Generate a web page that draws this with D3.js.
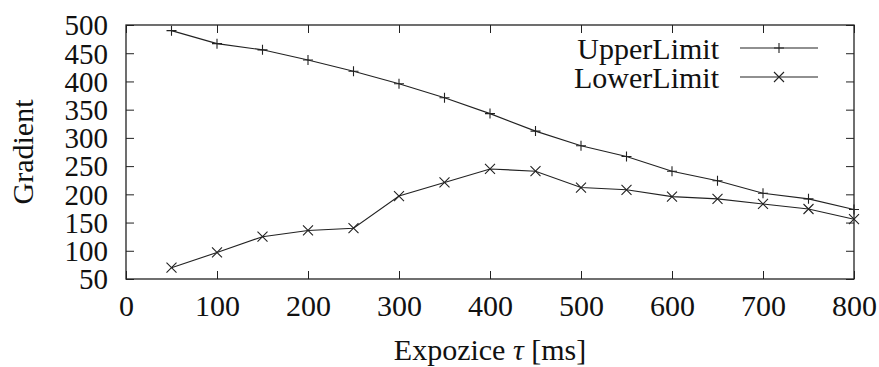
<!DOCTYPE html>
<html><head><meta charset="utf-8">
<script src="https://cdn.jsdelivr.net/npm/d3@7/dist/d3.min.js"></script>
<style>body{margin:0;background:#fff}svg{display:block}</style>
</head><body><svg id="c" width="879" height="367"></svg>
<script>
const exposure = [50,100,150,200,250,300,350,400,450,500,550,600,650,700,750,800];
const upperLimit = [490,467,456,438,418,396,371,343,312,286,267,241,224,202,192,173];
const lowerLimit = [70,97,125,136,140,197,221,245,241,212,208,196,192,183,174,156];
const xTicks = [0,100,200,300,400,500,600,700,800];
const yTicks = [50,100,150,200,250,300,350,400,450,500];
const seriesNames = ["UpperLimit","LowerLimit"];

const FONT = "'Liberation Serif','Times New Roman','DejaVu Serif',serif";
const svg = d3.select("#c");
const L=126, R=854, T=25, B=279;
const x = d3.scaleLinear().domain([0,800]).range([L,R]);
const y = d3.scaleLinear().domain([50,500]).range([B,T]);
const ink="#222";

svg.append("g").attr("transform",`translate(0,${B})`)
  .call(d3.axisBottom(x).tickValues(xTicks).tickSize(-8).tickPadding(14).tickFormat(d3.format("d")))
  .call(g=>{g.select(".domain").remove();g.selectAll("line").attr("stroke",ink);g.selectAll("text").attr("font-size",30).attr("dy","0.75em").attr("fill","#111").style("font-family",FONT);});
svg.append("g").attr("transform",`translate(0,${T})`)
  .call(d3.axisTop(x).tickValues(xTicks).tickSize(-8).tickFormat(""))
  .call(g=>{g.select(".domain").remove();g.selectAll("line").attr("stroke",ink);});
svg.append("g").attr("transform",`translate(${L},0)`)
  .call(d3.axisLeft(y).tickValues(yTicks).tickSize(-8).tickPadding(18).tickFormat(d3.format("d")))
  .call(g=>{g.select(".domain").remove();g.selectAll("line").attr("stroke",ink);g.selectAll("text").attr("font-size",29).attr("dy","0.34em").attr("fill","#111").style("font-family",FONT);});
svg.append("g").attr("transform",`translate(${R},0)`)
  .call(d3.axisRight(y).tickValues(yTicks).tickSize(-8).tickFormat(""))
  .call(g=>{g.select(".domain").remove();g.selectAll("line").attr("stroke",ink);});

svg.append("rect").attr("x",L).attr("y",T).attr("width",R-L).attr("height",B-T)
  .attr("fill","none").attr("stroke",ink).attr("stroke-width",1.3);

const line = d3.line().x(d=>x(d[0])).y(d=>y(d[1]));
const s = 5, sx = 5;
function plus(g,cx,cy){g.append("path").attr("d",`M${cx-s},${cy}H${cx+s}M${cx},${cy-s}V${cy+s}`).attr("stroke",ink).attr("stroke-width",1.1);}
function cross(g,cx,cy){g.append("path").attr("d",`M${cx-sx},${cy-sx}L${cx+sx},${cy+sx}M${cx-sx},${cy+sx}L${cx+sx},${cy-sx}`).attr("stroke",ink).attr("stroke-width",1.1);}

const data = [upperLimit, lowerLimit];
const markers = [plus, cross];
data.forEach((vals,i)=>{
  const pts = exposure.map((e,j)=>[e,vals[j]]);
  svg.append("path").attr("d",line(pts)).attr("fill","none").attr("stroke",ink).attr("stroke-width",1.1);
  const g = svg.append("g");
  pts.forEach(p=>markers[i](g,x(p[0]),y(p[1])));
  const ly = 48 + i*29;
  svg.append("text").attr("x",719).attr("y",ly).attr("dy","0.35em").attr("text-anchor","end").attr("font-size",30).attr("fill","#111").style("font-family",FONT).text(seriesNames[i]);
  svg.append("line").attr("x1",740).attr("x2",818).attr("y1",ly).attr("y2",ly).attr("stroke",ink).attr("stroke-width",1.1);
  markers[i](svg,779,ly);
});

svg.append("text").attr("transform","translate(33,152) rotate(-90)").attr("text-anchor","middle").attr("font-size",30).attr("fill","#111").style("font-family",FONT).text("Gradient");
const xt = svg.append("text").attr("x",490).attr("y",360).attr("text-anchor","middle").attr("font-size",30).attr("fill","#111").style("font-family",FONT);
xt.append("tspan").text("Expozice ");
xt.append("tspan").attr("font-style","italic").text("τ");
xt.append("tspan").text(" [ms]");
</script></body></html>
